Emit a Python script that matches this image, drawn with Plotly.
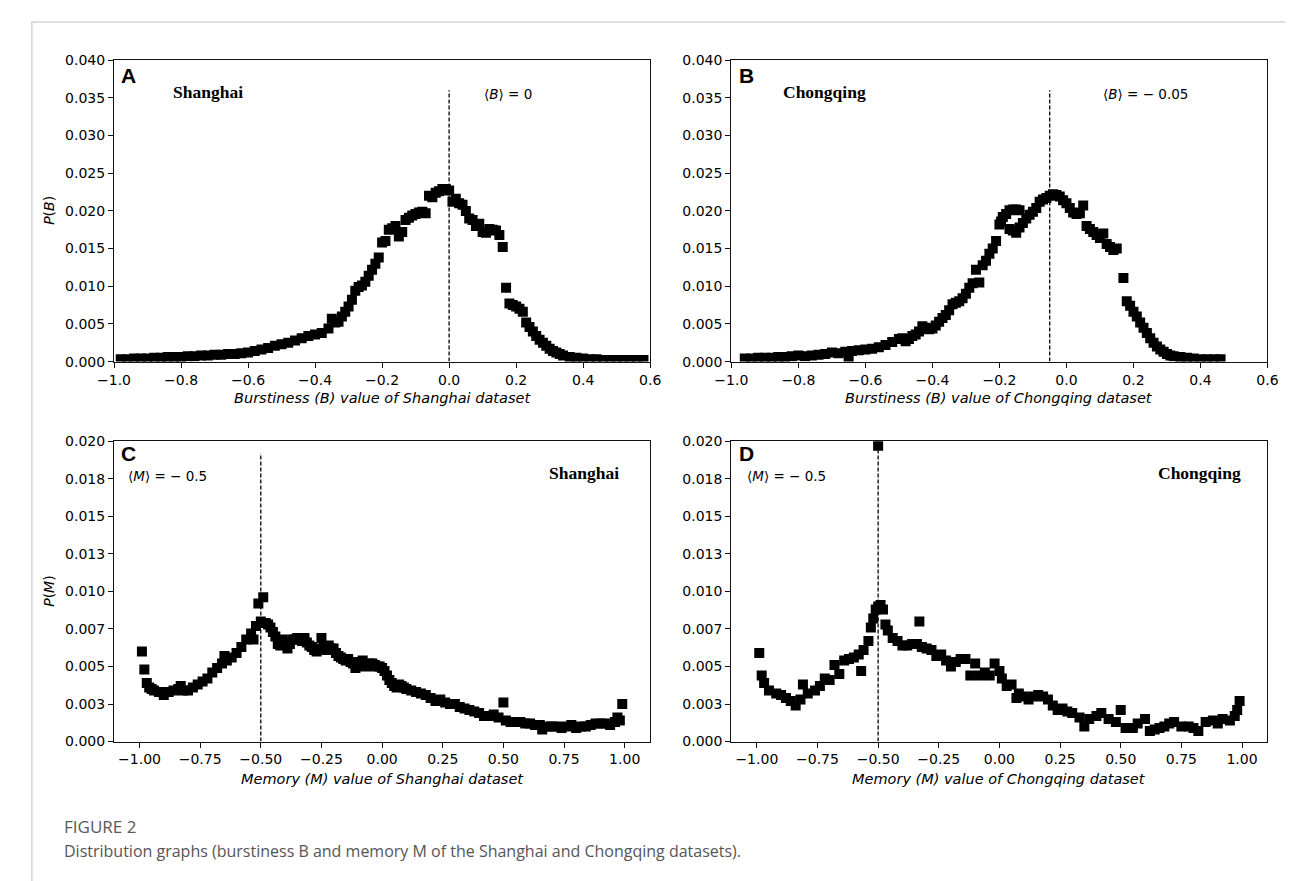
import plotly.graph_objects as go

# Panel A: burstiness B, Shanghai
sh_b_x = [-0.98, -0.96, -0.94, -0.92, -0.90, -0.88, -0.86, -0.84, -0.82, -0.80,
          -0.78, -0.76, -0.74, -0.72, -0.70, -0.68, -0.66, -0.64, -0.62, -0.60,
          -0.58, -0.56, -0.54, -0.52, -0.50, -0.48, -0.46, -0.44, -0.42, -0.40,
          -0.38, -0.36, -0.35, -0.34, -0.33, -0.32, -0.31, -0.30, -0.29, -0.28,
          -0.27, -0.26, -0.25, -0.24, -0.23, -0.22, -0.21, -0.20, -0.19, -0.18,
          -0.17, -0.16, -0.15, -0.14, -0.13, -0.12, -0.11, -0.10, -0.09, -0.08,
          -0.07, -0.06, -0.05, -0.04, -0.03, -0.02, -0.01, 0.00, 0.01, 0.02,
          0.03, 0.04, 0.05, 0.06, 0.07, 0.08, 0.09, 0.10, 0.11, 0.12,
          0.13, 0.14, 0.15, 0.16, 0.17, 0.18, 0.19, 0.20, 0.21, 0.22,
          0.23, 0.24, 0.25, 0.26, 0.27, 0.28, 0.29, 0.30, 0.31, 0.32,
          0.33, 0.34, 0.36, 0.38, 0.40, 0.42, 0.44, 0.46, 0.48, 0.50,
          0.52, 0.54, 0.56, 0.58]
sh_b_y = [0.0003, 0.0003, 0.0004, 0.0004, 0.0004, 0.0005, 0.0005, 0.0006, 0.0006, 0.0006,
          0.0007, 0.0007, 0.0008, 0.0008, 0.0009, 0.0009, 0.0010, 0.0010, 0.0011, 0.0012,
          0.0014, 0.0016, 0.0018, 0.0021, 0.0023, 0.0025, 0.0028, 0.0031, 0.0034, 0.0036,
          0.0038, 0.0044, 0.0057, 0.0052, 0.0053, 0.0060, 0.0066, 0.0073, 0.0082, 0.0094,
          0.0099, 0.0101, 0.0106, 0.0114, 0.0122, 0.0130, 0.0138, 0.0158, 0.0160, 0.0175,
          0.0177, 0.0180, 0.0166, 0.0172, 0.0188, 0.0191, 0.0194, 0.0196, 0.0198, 0.0199,
          0.0197, 0.0220, 0.0218, 0.0224, 0.0226, 0.0229, 0.0229, 0.0227, 0.0212, 0.0216,
          0.0210, 0.0208, 0.0200, 0.0190, 0.0188, 0.0180, 0.0183, 0.0172, 0.0171, 0.0176,
          0.0175, 0.0174, 0.0168, 0.0152, 0.0098, 0.0077, 0.0075, 0.0073, 0.0070, 0.0066,
          0.0052, 0.0046, 0.0040, 0.0034, 0.0029, 0.0025, 0.0021, 0.0017, 0.0014, 0.0012,
          0.0010, 0.0008, 0.0006, 0.0005, 0.0004, 0.0003, 0.0003, 0.0002, 0.0002, 0.0002,
          0.0002, 0.0002, 0.0002, 0.0002]

# Panel B: burstiness B, Chongqing
cq_b_x = [-0.96, -0.94, -0.92, -0.90, -0.88, -0.86, -0.84, -0.82, -0.80, -0.78,
          -0.76, -0.74, -0.72, -0.70, -0.68, -0.66, -0.65, -0.64, -0.62, -0.60,
          -0.58, -0.56, -0.54, -0.52, -0.50, -0.49, -0.48, -0.47, -0.46, -0.45,
          -0.44, -0.43, -0.42, -0.41, -0.40, -0.39, -0.38, -0.37, -0.36, -0.35,
          -0.34, -0.33, -0.32, -0.31, -0.30, -0.29, -0.28, -0.27, -0.26, -0.25,
          -0.24, -0.23, -0.22, -0.21, -0.20, -0.195, -0.19, -0.18, -0.17, -0.16,
          -0.15, -0.14, -0.17, -0.16, -0.15, -0.14, -0.13, -0.12, -0.11, -0.10,
          -0.09, -0.08, -0.07, -0.06, -0.05, -0.04, -0.03, -0.02, -0.01, 0.00,
          0.01, 0.02, 0.03, 0.04, 0.05, 0.06, 0.07, 0.08, 0.09, 0.10,
          0.11, 0.12, 0.13, 0.14, 0.15, 0.17, 0.18, 0.19, 0.20, 0.21,
          0.22, 0.23, 0.24, 0.25, 0.26, 0.27, 0.28, 0.29, 0.30, 0.31,
          0.32, 0.34, 0.36, 0.38, 0.40, 0.42, 0.44, 0.46]
cq_b_y = [0.0004, 0.0004, 0.0005, 0.0005, 0.0005, 0.0006, 0.0006, 0.0007, 0.0008, 0.0007,
          0.0008, 0.0009, 0.0010, 0.0012, 0.0011, 0.0013, 0.0005, 0.0014, 0.0015, 0.0016,
          0.0017, 0.0019, 0.0022, 0.0026, 0.0030, 0.0031, 0.0027, 0.0030, 0.0034, 0.0036,
          0.0040, 0.0047, 0.0045, 0.0043, 0.0044, 0.0048, 0.0053, 0.0058, 0.0062, 0.0068,
          0.0076, 0.0078, 0.0080, 0.0084, 0.0090, 0.0098, 0.0104, 0.0122, 0.0105, 0.0128,
          0.0134, 0.0143, 0.0150, 0.0160, 0.0182, 0.0186, 0.0192, 0.0196, 0.0201, 0.0202,
          0.0202, 0.0201, 0.0176, 0.0174, 0.0171, 0.0178, 0.0184, 0.0190, 0.0195, 0.0199,
          0.0204, 0.0212, 0.0215, 0.0217, 0.0220, 0.0222, 0.0221, 0.0219, 0.0214, 0.0210,
          0.0204, 0.0198, 0.0196, 0.0197, 0.0207, 0.0180, 0.0176, 0.0172, 0.0168, 0.0164,
          0.0170, 0.0156, 0.0152, 0.0148, 0.0150, 0.0111, 0.0080, 0.0074, 0.0066, 0.0060,
          0.0052, 0.0045, 0.0038, 0.0031, 0.0025, 0.0020, 0.0016, 0.0013, 0.0010, 0.0008,
          0.0007, 0.0006, 0.0005, 0.0004, 0.0003, 0.0003, 0.0003, 0.0003]

# Panel C: memory M, Shanghai
sh_m_x = [-0.99, -0.98, -0.97, -0.96, -0.95, -0.94, -0.92, -0.90, -0.88, -0.86,
          -0.84, -0.83, -0.82, -0.80, -0.78, -0.76, -0.74, -0.72, -0.70, -0.68,
          -0.66, -0.65, -0.64, -0.62, -0.60, -0.58, -0.56, -0.54, -0.53, -0.52,
          -0.51, -0.50, -0.49, -0.48, -0.47, -0.46, -0.45, -0.44, -0.43, -0.42,
          -0.41, -0.40, -0.39, -0.38, -0.37, -0.36, -0.35, -0.34, -0.33, -0.32,
          -0.31, -0.30, -0.29, -0.28, -0.27, -0.26, -0.25, -0.24, -0.23, -0.22,
          -0.21, -0.20, -0.19, -0.18, -0.17, -0.16, -0.15, -0.14, -0.13, -0.12,
          -0.11, -0.10, -0.09, -0.08, -0.07, -0.06, -0.05, -0.04, -0.03, -0.02,
          -0.01, 0.00, 0.01, 0.02, 0.03, 0.04, 0.05, 0.06, 0.07, 0.08,
          0.09, 0.10, 0.12, 0.14, 0.16, 0.18, 0.20, 0.22, 0.24, 0.26,
          0.28, 0.30, 0.32, 0.34, 0.36, 0.38, 0.40, 0.42, 0.44, 0.46,
          0.48, 0.50, 0.51, 0.53, 0.55, 0.57, 0.59, 0.61, 0.63, 0.65,
          0.66, 0.68, 0.70, 0.72, 0.74, 0.76, 0.78, 0.80, 0.82, 0.84,
          0.86, 0.88, 0.90, 0.92, 0.94, 0.96, 0.97, 0.98, 0.99]
sh_m_y = [0.0060, 0.0048, 0.0039, 0.0036, 0.0035, 0.0034, 0.0033, 0.0031, 0.0033, 0.0034,
          0.0035, 0.0037, 0.0034, 0.0034, 0.0036, 0.0038, 0.0040, 0.0042, 0.0046, 0.0049,
          0.0052, 0.0057, 0.0054, 0.0056, 0.0059, 0.0063, 0.0068, 0.0072, 0.0068, 0.0077,
          0.0092, 0.0080, 0.0096, 0.0079, 0.0078, 0.0076, 0.0073, 0.0070, 0.0065, 0.0064,
          0.0068, 0.0066, 0.0062, 0.0065, 0.0068, 0.0068, 0.0069, 0.0068, 0.0067, 0.0069,
          0.0066, 0.0064, 0.0063, 0.0061, 0.0060, 0.0062, 0.0069, 0.0063, 0.0061, 0.0064,
          0.0062, 0.0062, 0.0059, 0.0057, 0.0056, 0.0055, 0.0054, 0.0055, 0.0053, 0.0052,
          0.0049, 0.0050, 0.0053, 0.0054, 0.0051, 0.0050, 0.0052, 0.0052, 0.0051, 0.0050,
          0.0050, 0.0049, 0.0047, 0.0044, 0.0041, 0.0039, 0.0037, 0.0036, 0.0038, 0.0037,
          0.0036, 0.0035, 0.0034, 0.0033, 0.0032, 0.0031, 0.0029, 0.0027, 0.0028, 0.0026,
          0.0025, 0.0025, 0.0023, 0.0022, 0.0021, 0.0020, 0.0019, 0.0017, 0.0017, 0.0018,
          0.0016, 0.0026, 0.0014, 0.0013, 0.0013, 0.0013, 0.0012, 0.0012, 0.0011, 0.0011,
          0.0008, 0.0010, 0.0010, 0.0010, 0.0009, 0.0010, 0.0011, 0.0009, 0.0010, 0.0010,
          0.0011, 0.0012, 0.0012, 0.0012, 0.0011, 0.0013, 0.0016, 0.0014, 0.0025]

# Panel D: memory M, Chongqing
cq_m_x = [-0.99, -0.98, -0.97, -0.95, -0.92, -0.90, -0.88, -0.86, -0.84, -0.82,
          -0.81, -0.79, -0.76, -0.74, -0.72, -0.70, -0.68, -0.66, -0.64, -0.62,
          -0.60, -0.58, -0.57, -0.56, -0.54, -0.53, -0.52, -0.51, -0.50, -0.50,
          -0.49, -0.48, -0.47, -0.46, -0.44, -0.42, -0.40, -0.38, -0.36, -0.34,
          -0.33, -0.32, -0.30, -0.28, -0.26, -0.24, -0.22, -0.20, -0.18, -0.16,
          -0.14, -0.12, -0.10, -0.08, -0.06, -0.04, -0.02, 0.00, 0.01, 0.03,
          0.05, 0.07, 0.08, 0.10, 0.12, 0.14, 0.16, 0.18, 0.20, 0.22,
          0.24, 0.26, 0.28, 0.30, 0.33, 0.35, 0.37, 0.40, 0.42, 0.45,
          0.48, 0.50, 0.52, 0.55, 0.57, 0.60, 0.62, 0.64, 0.66, 0.68,
          0.70, 0.72, 0.75, 0.78, 0.80, 0.82, 0.85, 0.88, 0.90, 0.92,
          0.95, 0.97, 0.98, 0.99]
cq_m_y = [0.0059, 0.0044, 0.0039, 0.0034, 0.0032, 0.0031, 0.0029, 0.0027, 0.0024, 0.0028,
          0.0038, 0.0032, 0.0034, 0.0037, 0.0042, 0.0041, 0.0051, 0.0045, 0.0054, 0.0055,
          0.0056, 0.0058, 0.0047, 0.0061, 0.0067, 0.0076, 0.0082, 0.0088, 0.0197, 0.0090,
          0.0091, 0.0088, 0.0078, 0.0074, 0.0069, 0.0067, 0.0064, 0.0064, 0.0065, 0.0065,
          0.0080, 0.0063, 0.0062, 0.0061, 0.0057, 0.0058, 0.0054, 0.0050, 0.0053, 0.0055,
          0.0055, 0.0044, 0.0052, 0.0044, 0.0046, 0.0044, 0.0052, 0.0047, 0.0042, 0.0037,
          0.0038, 0.0029, 0.0032, 0.0030, 0.0028, 0.0030, 0.0031, 0.0030, 0.0028, 0.0024,
          0.0021, 0.0022, 0.0020, 0.0019, 0.0016, 0.0010, 0.0015, 0.0017, 0.0019, 0.0015,
          0.0013, 0.0021, 0.0009, 0.0009, 0.0012, 0.0015, 0.0007, 0.0008, 0.0009, 0.0010,
          0.0012, 0.0013, 0.0010, 0.0010, 0.0009, 0.0007, 0.0013, 0.0014, 0.0012, 0.0015,
          0.0014, 0.0017, 0.0021, 0.0027]

mean_b = [0.0, -0.05]
mean_m = [-0.5, -0.5]
mean_line_top_b = 0.036
mean_line_top_m = [0.0192, 0.0195]

b_ticks = [-1.0, -0.8, -0.6, -0.4, -0.2, 0.0, 0.2, 0.4, 0.6]
m_ticks = [-1.0, -0.75, -0.5, -0.25, 0.0, 0.25, 0.5, 0.75, 1.0]
pm_tickvals = [0.0, 0.0025, 0.005, 0.0075, 0.01, 0.0125, 0.015, 0.0175, 0.02]
pm_ticktext = ["0.000", "0.003", "0.005", "0.007", "0.010", "0.013", "0.015", "0.018", "0.020"]

W, H = 1293, 881


def px_x(v):
    return v / W


def px_y(v):
    return 1 - v / H


fig = go.Figure()

series = [
    (sh_b_x, sh_b_y, "x", "y"),
    (cq_b_x, cq_b_y, "x2", "y2"),
    (sh_m_x, sh_m_y, "x3", "y3"),
    (cq_m_x, cq_m_y, "x4", "y4"),
]
for xs, ys, xa, ya in series:
    fig.add_trace(go.Scatter(
        x=xs, y=ys, xaxis=xa, yaxis=ya, mode="markers",
        marker=dict(symbol="square", size=10, color="black", line_width=0),
        showlegend=False,
    ))

# dashed mean lines
mean_lines = [
    (mean_b[0], mean_line_top_b, "x", "y"),
    (mean_b[1], mean_line_top_b, "x2", "y2"),
    (mean_m[0], mean_line_top_m[0], "x3", "y3"),
    (mean_m[1], mean_line_top_m[1], "x4", "y4"),
]
for mx, top, xa, ya in mean_lines:
    fig.add_trace(go.Scatter(
        x=[mx, mx], y=[0, top], xaxis=xa, yaxis=ya, mode="lines",
        line=dict(color="black", width=1.3, dash="4px,2px"),
        showlegend=False,
    ))

tick_font = dict(family="DejaVu Sans", size=14, color="black")
axis_common = dict(
    showline=True, linecolor="#111", linewidth=1.2, mirror=True,
    ticks="outside", ticklen=5, tickwidth=1.1, tickcolor="#111",
    showgrid=False, zeroline=False, tickfont=tick_font,
)

dom_left = [px_x(91), px_x(639)]
dom_right = [px_x(722), px_x(1270)]
dom_top = [px_y(352), px_y(45)]
dom_bot = [px_y(739), px_y(433)]

b_x = dict(axis_common, range=[-1.0, 0.6], tickvals=b_ticks, tickformat=".1f")
b_y = dict(axis_common, range=[0, 0.04], dtick=0.005, tick0=0, tickformat=".3f")
m_x = dict(axis_common, range=[-1.105, 1.105], tickvals=m_ticks, tickformat=".2f")
m_y = dict(axis_common, range=[0, 0.02], tickvals=pm_tickvals, ticktext=pm_ticktext)

fig.update_layout(
    width=W, height=H,
    margin=dict(l=0, r=0, t=0, b=0),
    paper_bgcolor="white", plot_bgcolor="white",
    xaxis=dict(b_x, domain=dom_left, anchor="y"),
    yaxis=dict(b_y, domain=dom_top, anchor="x"),
    xaxis2=dict(b_x, domain=dom_right, anchor="y2"),
    yaxis2=dict(b_y, domain=dom_top, anchor="x2"),
    xaxis3=dict(m_x, domain=dom_left, anchor="y3"),
    yaxis3=dict(m_y, domain=dom_bot, anchor="x3"),
    xaxis4=dict(m_x, domain=dom_right, anchor="y4"),
    yaxis4=dict(m_y, domain=dom_bot, anchor="x4"),
)

letter_font = dict(family="Liberation Sans", size=21, color="black")
city_font = dict(family="Liberation Serif", size=17.5, color="black")
mean_font = dict(family="DejaVu Sans", size=13.5, color="black")
title_font = dict(family="DejaVu Sans", size=14.5, color="black", style="italic")

notes = []
panel_text = [
    ("x", "y", "A", 0.948, "Shanghai", 0.175, 0.896, "⟨<i>B</i>⟩ = 0", 0.735, 0.889),
    ("x2", "y2", "B", 0.948, "Chongqing", 0.173, 0.896, "⟨<i>B</i>⟩ = − 0.05", 0.772, 0.889),
    ("x3", "y3", "C", 0.958, "Shanghai", 0.876, 0.895, "⟨<i>M</i>⟩ = − 0.5", 0.099, 0.884),
    ("x4", "y4", "D", 0.958, "Chongqing", 0.874, 0.895, "⟨<i>M</i>⟩ = − 0.5", 0.102, 0.884),
]
for xa, ya, letter, ly, city, cx, cy, mtxt, mxp, myp in panel_text:
    xr, yr = xa + " domain", ya + " domain"
    notes.append(dict(xref=xr, yref=yr, x=0.012, y=ly, text="<b>%s</b>" % letter,
                      showarrow=False, xanchor="left", yanchor="middle", font=letter_font,
                      borderpad=0))
    notes.append(dict(xref=xr, yref=yr, x=cx, y=cy, text="<b>%s</b>" % city,
                      showarrow=False, xanchor="center", yanchor="middle", font=city_font))
    notes.append(dict(xref=xr, yref=yr, x=mxp, y=myp, text=mtxt,
                      showarrow=False, xanchor="center", yanchor="middle", font=mean_font,
                      borderpad=0))

x_titles = [
    ("Burstiness (B) value of Shanghai dataset", 365, 389),
    ("Burstiness (B) value of Chongqing dataset", 996, 389),
    ("Memory (M) value of Shanghai dataset", 365, 777),
    ("Memory (M) value of Chongqing dataset", 996, 777),
]
for txt, xp, yp in x_titles:
    notes.append(dict(xref="paper", yref="paper", x=px_x(xp), y=px_y(yp), text=txt,
                      showarrow=False, xanchor="center", yanchor="middle", font=title_font))

y_titles = [("<i>P</i>(<i>B</i>)", 198), ("<i>P</i>(<i>M</i>)", 586)]
for txt, yp in y_titles:
    notes.append(dict(xref="paper", yref="paper", x=px_x(25), y=px_y(yp), text=txt,
                      showarrow=False, textangle=-90, xanchor="center", yanchor="middle",
                      font=dict(family="DejaVu Sans", size=14, color="black")))

notes.append(dict(xref="paper", yref="paper", x=px_x(38), y=px_y(826), text="FIGURE 2",
                  showarrow=False, xanchor="left", yanchor="middle",
                  font=dict(family="Open Sans", size=17, color="#5a5a5a")))
notes.append(dict(xref="paper", yref="paper", x=px_x(38), y=px_y(850),
                  text="Distribution graphs (burstiness B and memory M of the Shanghai and Chongqing datasets).",
                  showarrow=False, xanchor="left", yanchor="middle",
                  font=dict(family="Open Sans", size=16, color="#555555")))

fig.update_layout(annotations=notes)

# light frame around the figure page
fig.add_shape(type="rect", xref="paper", yref="paper",
              x0=px_x(7), x1=px_x(1289), y0=-0.05, y1=px_y(6),
              line=dict(color="#d4d4d4", width=1.5), fillcolor="rgba(0,0,0,0)", layer="below")

fig.write_html("out.html")
